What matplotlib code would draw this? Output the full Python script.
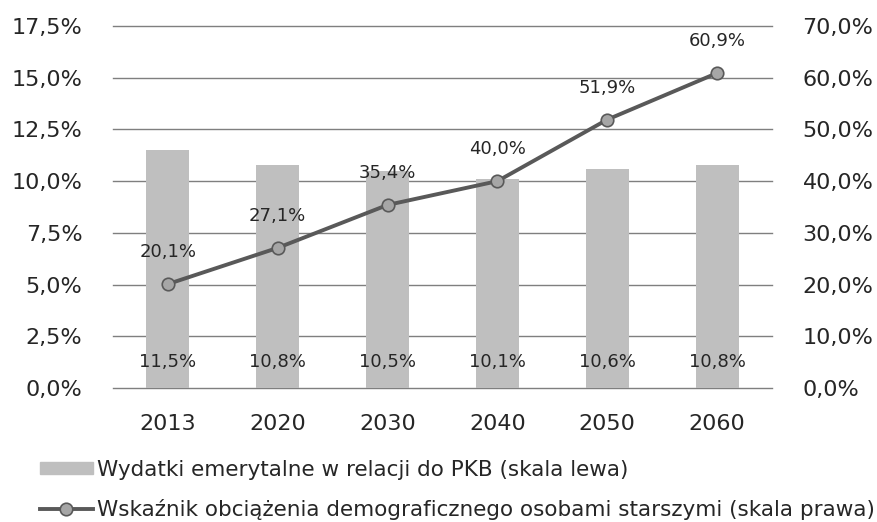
import matplotlib.pyplot as plt
import matplotlib.patches as mpatches
import matplotlib.lines as mlines
import numpy as np

years = ['2013', '2020', '2030', '2040', '2050', '2060']
wydatki = [11.5, 10.8, 10.5, 10.1, 10.6, 10.8]      # % PKB, skala lewa
wskaznik = [20.1, 27.1, 35.4, 40.0, 51.9, 60.9]     # %, skala prawa
left_ticks = [0, 2.5, 5, 7.5, 10, 12.5, 15, 17.5]
right_ticks = [0, 10, 20, 30, 40, 50, 60, 70]
lab_bar = 'Wydatki emerytalne w relacji do PKB (skala lewa)'
lab_line = 'Wskaźnik obciążenia demograficznego osobami starszymi (skala prawa)'

plt.rcParams['font.family'] = ['DejaVu Sans']

def pl(v):
    return ('%.1f%%' % v).replace('.', ',')

bar_c = '#bfbfbf'
line_c = '#595959'
txt_c = '#262626'

fig = plt.figure(figsize=(8.78, 5.22), dpi=100)
ax = fig.add_axes([113/878, 1-388/522, (772-113)/878, (388-26)/522])
x = np.arange(len(years))

for t in left_ticks:
    ax.axhline(t, color='#7f7f7f', lw=1.0, zorder=0, clip_on=False)
ax.bar(x, wydatki, width=0.39, color=bar_c, zorder=2)
ax.set_xlim(-0.5, len(years)-0.5)
ax.set_ylim(0, 17.5)
ax.set_yticks(left_ticks, [pl(t) for t in left_ticks])
ax.set_xticks(x, years)
ax.tick_params(length=0, labelsize=16, colors=txt_c)
ax.tick_params(axis='y', pad=22)
ax.tick_params(axis='x', pad=19)
for s in ax.spines.values():
    s.set_visible(False)
for xi, v in zip(x, wydatki):
    ax.annotate(pl(v), (xi, 0), xytext=(0, 19), textcoords='offset points',
                ha='center', va='center', fontsize=13, color=txt_c, zorder=5)

ax2 = ax.twinx()
ax2.set_ylim(0, 70)
ax2.set_yticks(right_ticks, [pl(t) for t in right_ticks])
ax2.tick_params(length=0, labelsize=16, colors=txt_c, pad=22)
for s in ax2.spines.values():
    s.set_visible(False)
ax2.plot(x, wskaznik, color=line_c, lw=2.8, marker='o', ms=9,
         mfc='#a6a6a6', mec=line_c, mew=1.2, zorder=4)
for xi, v in zip(x, wskaznik):
    ax2.annotate(pl(v), (xi, v), xytext=(0, 23), textcoords='offset points',
                 ha='center', va='center', fontsize=13, color=txt_c)

h1 = mpatches.Patch(color=bar_c)
h2 = mlines.Line2D([], [], color=line_c, lw=2.8, marker='o', ms=9,
                   mfc='#a6a6a6', mec=line_c, mew=1.2)
fig.legend([h1, h2], [lab_bar, lab_line], loc='center left',
           bbox_to_anchor=(40/878, 1-490/522), frameon=False, fontsize=15.5,
           borderpad=0, borderaxespad=0, handlelength=2.45, handleheight=0.45,
           handletextpad=0.2, labelspacing=0.9, labelcolor=txt_c)

fig.savefig('out.png', dpi=100)
